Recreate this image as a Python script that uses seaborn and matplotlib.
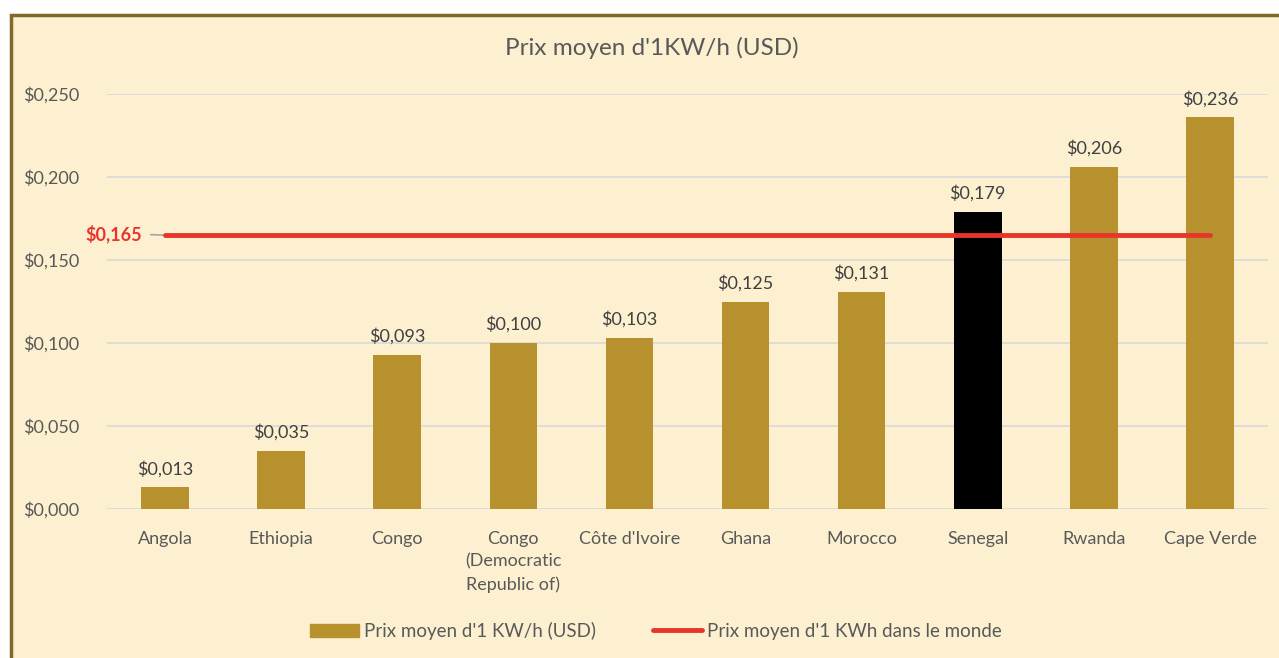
import matplotlib
matplotlib.use("Agg")
import matplotlib.pyplot as plt
import seaborn as sns
import pandas as pd
from matplotlib.patches import Patch, Rectangle
from matplotlib.lines import Line2D

countries = ["Angola", "Ethiopia", "Congo", "Congo\n(Democratic\nRepublic of)",
             "Côte d'Ivoire", "Ghana", "Morocco", "Senegal", "Rwanda", "Cape Verde"]
prices = [0.013, 0.035, 0.093, 0.100, 0.103, 0.125, 0.131, 0.179, 0.206, 0.236]
world_avg = 0.165
yticks = [0.0, 0.05, 0.10, 0.15, 0.20, 0.25]

gold = "#B8912F"
bg = "#FCF0D0"
textc = "#595959"
red = "#E8352A"

sns.set_theme(style="white")
plt.rcParams['font.family'] = ['Lato', 'DejaVu Sans']

fig = plt.figure(figsize=(12.79, 6.58), dpi=100)
fig.patch.set_facecolor("white")
fig.add_artist(Rectangle((11/1279, -0.05), 1.1, 1 - 15/658 + 0.05, transform=fig.transFigure,
                         facecolor=bg, edgecolor="#7F6A2A", linewidth=2.5, zorder=0))

ax = fig.add_axes([107/1279, 1 - 509/658, (1268 - 107)/1279, (509 - 94)/658])
ax.set_facecolor("none")

df = pd.DataFrame({"country": countries, "price": prices})
palette = [("#000000" if c == "Senegal" else gold) for c in countries]
sns.barplot(data=df, x="country", y="price", hue="country", palette=palette,
            legend=False, width=0.41, ax=ax, zorder=3, saturation=1, linewidth=0)

ax.set_xlim(-0.5, len(countries) - 0.5)
ax.set_ylim(0, 0.25)
ax.set_yticks(yticks)
ax.set_yticklabels([f"${v:.3f}".replace(".", ",") for v in yticks], color=textc, fontsize=13)
ax.tick_params(axis="x", colors=textc, labelsize=13, length=0, pad=16)
ax.tick_params(axis="y", length=0, pad=20)
ax.grid(axis="y", color="#D9D9D9", linewidth=1.2, zorder=0)
ax.set_axisbelow(True)
for s in ax.spines.values():
    s.set_visible(False)
ax.set_xlabel("")
ax.set_ylabel("")
for lbl in ax.get_xticklabels():
    lbl.set_color(textc)
    lbl.set_linespacing(1.5)

for i, v in enumerate(prices):
    ax.text(i, v + 0.006, f"${v:.3f}".replace(".", ","), ha="center", va="bottom",
            fontsize=13, color="#404040")

ax.plot([0, len(countries) - 1], [world_avg, world_avg], color=red, linewidth=3.5,
        solid_capstyle="round", zorder=4)
ax.annotate(f"${world_avg:.3f}".replace(".", ","), xy=(0, world_avg),
            xytext=(-0.2, world_avg + 0.001), textcoords="data",
            ha="right", va="center", fontsize=13, fontweight="bold", color=red,
            arrowprops=dict(arrowstyle="-", color="#A6A6A6", lw=1.2, shrinkA=4, shrinkB=1),
            annotation_clip=False)

fig.text(652/1279, 1 - 48/658, "Prix moyen d'1KW/h (USD)", ha="center", va="center",
         fontsize=17.5, color=textc)

handles = [Patch(facecolor=gold, edgecolor=gold),
           Line2D([0], [0], color=red, linewidth=3.5, solid_capstyle="round")]
labels = ["Prix moyen d'1 KW/h (USD)", "Prix moyen d'1 KWh dans le monde"]
leg = fig.legend(handles, labels, loc="center", bbox_to_anchor=(656/1279, 1 - 631/658),
                 ncol=2, frameon=False, fontsize=13.5, handlelength=2.6,
                 handletextpad=0.3, columnspacing=3.0)
for t in leg.get_texts():
    t.set_color(textc)

fig.savefig("out.png", dpi=100, facecolor="white")
